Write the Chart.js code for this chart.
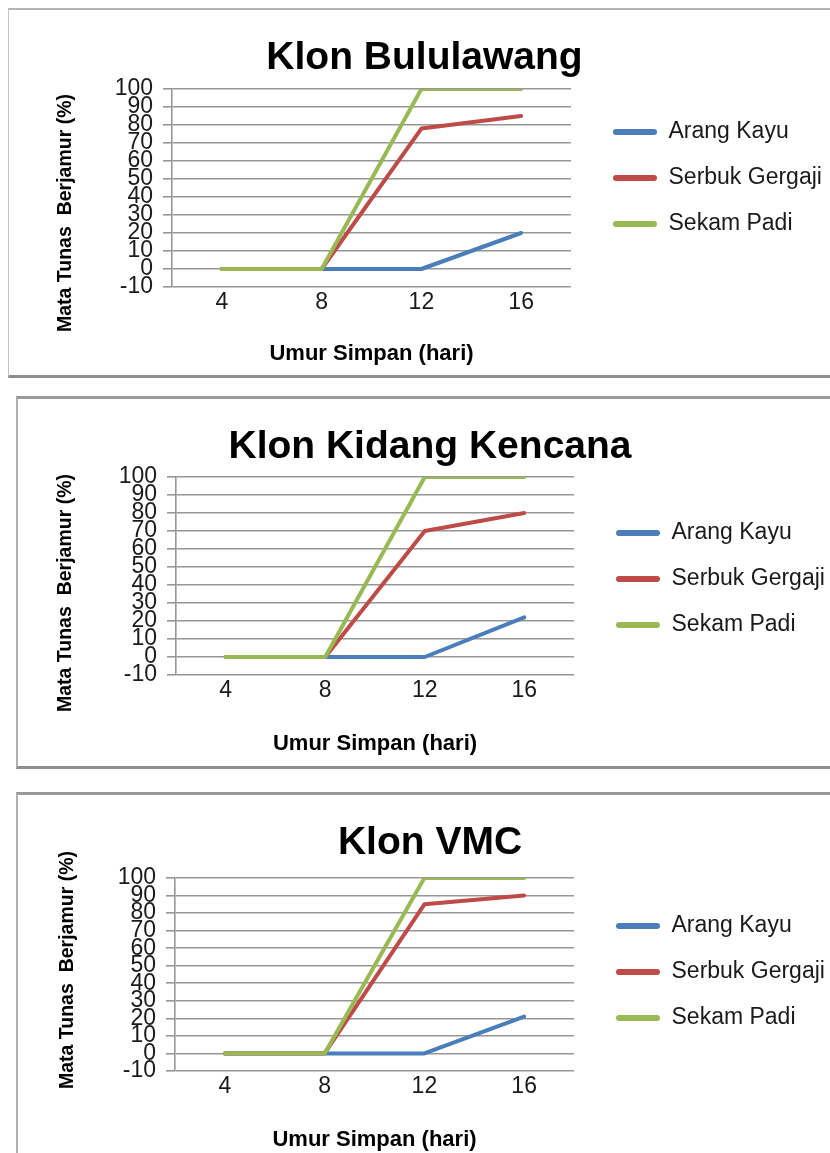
<!DOCTYPE html>
<html>
<head>
<meta charset="utf-8">
<script src="https://cdn.jsdelivr.net/npm/chart.js@4.4.1/dist/chart.umd.min.js"></script>
<style>
  html, body { margin: 0; padding: 0; background: #fff; }
  body { width: 830px; height: 1153px; position: relative; overflow: hidden; }
  .box { position: absolute; border-style: solid; border-color: #a6a6a6; box-sizing: border-box; }
  canvas { position: absolute; left: 0; }
</style>
</head>
<body>
<div class="box" style="left:8px;top:8px;width:900px;height:370px;border-width:2px 0 3px 1px;border-color:#b4b4b4 #b4b4b4 #8e8e8e #c4c4c4;"></div>
<div class="box" style="left:16px;top:396px;width:900px;height:373px;border-width:3px 0 3px 2px;border-color:#9a9a9a #9a9a9a #8e8e8e #b0b0b0;"></div>
<div class="box" style="left:16px;top:792px;width:900px;height:400px;border-width:3px 0 0 2px;border-color:#9a9a9a #9a9a9a #8e8e8e #b0b0b0;"></div>
<canvas id="c1"></canvas>
<canvas id="c2"></canvas>
<canvas id="c3"></canvas>
<script>
// data
const days = ['4', '8', '12', '16'];
const seriesNames = ['Arang Kayu', 'Serbuk Gergaji', 'Sekam Padi'];
const seriesColors = ['#4A7EBB', '#BE4B48', '#98B954'];

const titles = ['Klon Bululawang', 'Klon Kidang Kencana', 'Klon VMC'];

const bululawangArang = [0, 0, 0, 20];
const bululawangSerbuk = [0, 0, 78, 85];
const bululawangSekam = [0, 0, 100, 100];

const kidangArang = [0, 0, 0, 22];
const kidangSerbuk = [0, 0, 70, 80];
const kidangSekam = [0, 0, 100, 100];

const vmcArang = [0, 0, 0, 21];
const vmcSerbuk = [0, 0, 85, 90];
const vmcSekam = [0, 0, 100, 100];

const yMin = -10, yMax = 100, yStep = 10;
const xTitle = 'Umur Simpan (hari)';
const yTitle = 'Mata Tunas  Berjamur (%)';

const FONT = "'Liberation Sans', Arial, sans-serif";
const LEG_FS = 23, LEG_PAD = 23, BOX_W = 44;
const TITLE_FS = 39, XT_FS = 22, YT_FS = 19.5;

// page positions of each panel (px)
const panels = [
  { id: 'c1', top: -11, h: 378, plotTop: 89, plotBottom: 287, plotLeft: 172, plotRight: 571,
    titleX: 424.5, titleY: 58, xTitleY: 354, yTitleX: 66, yTitleY: 213, legendX: 613,
    data: [bululawangArang, bululawangSerbuk, bululawangSekam] },
  { id: 'c2', top: 400, h: 358, plotTop: 477, plotBottom: 675, plotLeft: 176, plotRight: 574,
    titleX: 430, titleY: 447, xTitleY: 744, yTitleX: 66, yTitleY: 593, legendX: 616,
    data: [kidangArang, kidangSerbuk, kidangSekam] },
  { id: 'c3', top: 790, h: 364, plotTop: 878, plotBottom: 1071, plotLeft: 175, plotRight: 574,
    titleX: 430, titleY: 843, xTitleY: 1140, yTitleX: 68, yTitleY: 970, legendX: 616,
    data: [vmcArang, vmcSerbuk, vmcSekam] }
];

const W = 860;

// width the legend will take, so the plot can be placed around it
const mctx = document.createElement('canvas').getContext('2d');
mctx.font = LEG_FS + 'px ' + FONT;
const textW = Math.max(...seriesNames.map(n => mctx.measureText(n).width));
const legendW = LEG_PAD + BOX_W + LEG_FS / 2 + textW + 10;

// keep the legend at its natural width (the layout would squeeze it otherwise)
const legendWidthPlugin = {
  id: 'legendWidth',
  beforeLayout(chart) {
    const lg = chart.legend;
    if (lg && !lg._fixedWidth) {
      const fit = lg.fit;
      lg.fit = function () { fit.call(this); this.width = legendW; };
      lg._fixedWidth = true;
    }
  }
};

const yTitlePlugin = {
  id: 'yTitleText',
  afterDraw(chart, args, opts) {
    const ctx = chart.ctx;
    ctx.save();
    ctx.translate(opts.x, opts.y);
    ctx.rotate(-Math.PI / 2);
    ctx.font = 'bold ' + YT_FS + 'px ' + FONT;
    ctx.fillStyle = '#000';
    ctx.textAlign = 'center';
    ctx.textBaseline = 'middle';
    ctx.fillText(opts.text, 0, 0);
    ctx.restore();
  }
};

titles.forEach((title, i) => {
  const p = panels[i];
  const cv = document.getElementById(p.id);
  cv.style.top = p.top + 'px';
  cv.style.width = W + 'px';
  cv.style.height = p.h + 'px';
  cv.width = W;
  cv.height = p.h;

  const legendLeft = p.legendX - LEG_PAD;
  const padL = 2 * p.titleX - legendLeft - legendW;
  const padR = W - legendLeft - legendW;
  const tlh = TITLE_FS * 1.2;
  const tPadTop = p.titleY - p.top - tlh / 2;
  const tPadBottom = p.plotTop - p.top - tPadTop - tlh;
  const xAxisH = p.top + p.h - p.plotBottom;
  const xtPadBottom = p.top + p.h - p.xTitleY - XT_FS * 1.2 / 2;

  new Chart(cv, {
    type: 'line',
    data: {
      labels: days,
      datasets: seriesNames.map((name, k) => ({
        label: name,
        data: p.data[k],
        borderColor: seriesColors[k],
        backgroundColor: seriesColors[k],
        borderWidth: 4,
        borderCapStyle: 'round',
        borderJoinStyle: 'round',
        pointRadius: 0,
        tension: 0,
        fill: false,
        order: 2 - k
      }))
    },
    plugins: [legendWidthPlugin, yTitlePlugin],
    options: {
      responsive: false,
      animation: false,
      events: [],
      layout: { padding: { left: padL, right: padR, top: 0, bottom: 0 } },
      scales: {
        x: {
          offset: true,
          grid: { display: false, drawTicks: false },
          border: { display: false },
          ticks: { color: '#1a1a1a', padding: 2, font: { family: FONT, size: 23 } },
          title: {
            display: true, text: xTitle, color: '#000',
            font: { family: FONT, size: XT_FS, weight: 'bold' },
            padding: { top: 0, bottom: xtPadBottom }
          },
          afterFit: (s) => { s.height = xAxisH; }
        },
        y: {
          min: yMin, max: yMax,
          ticks: { stepSize: yStep, autoSkip: false, color: '#1a1a1a', padding: 10,
                   font: { family: FONT, size: 23 } },
          grid: { color: '#969696', lineWidth: 1.6, tickLength: 9 },
          border: { display: true, color: '#969696', width: 1.6 },
          afterFit: (s) => { s.width = p.plotLeft - padL; }
        },
        gap: {
          position: 'right',
          display: true,
          grid: { display: false, drawTicks: false },
          border: { display: false },
          ticks: { display: false },
          afterFit: (s) => { s.width = legendLeft - p.plotRight; }
        }
      },
      plugins: {
        title: {
          display: true, text: title, color: '#000',
          font: { family: FONT, size: TITLE_FS, weight: 'bold' },
          padding: { top: tPadTop, bottom: tPadBottom }
        },
        legend: {
          position: 'right',
          align: 'center',
          labels: {
            color: '#1a1a1a',
            font: { family: FONT, size: LEG_FS },
            padding: LEG_PAD,
            boxWidth: BOX_W,
            boxHeight: 6,
            useBorderRadius: true,
            borderRadius: 3,
            generateLabels: (chart) =>
              Chart.defaults.plugins.legend.labels.generateLabels(chart)
                .sort((a, b) => a.datasetIndex - b.datasetIndex)
                .map(l => Object.assign(l, { lineWidth: 0 }))
          }
        },
        tooltip: { enabled: false },
        yTitleText: { text: yTitle, x: p.yTitleX, y: p.yTitleY - p.top }
      }
    }
  });
});
</script>
</body>
</html>
